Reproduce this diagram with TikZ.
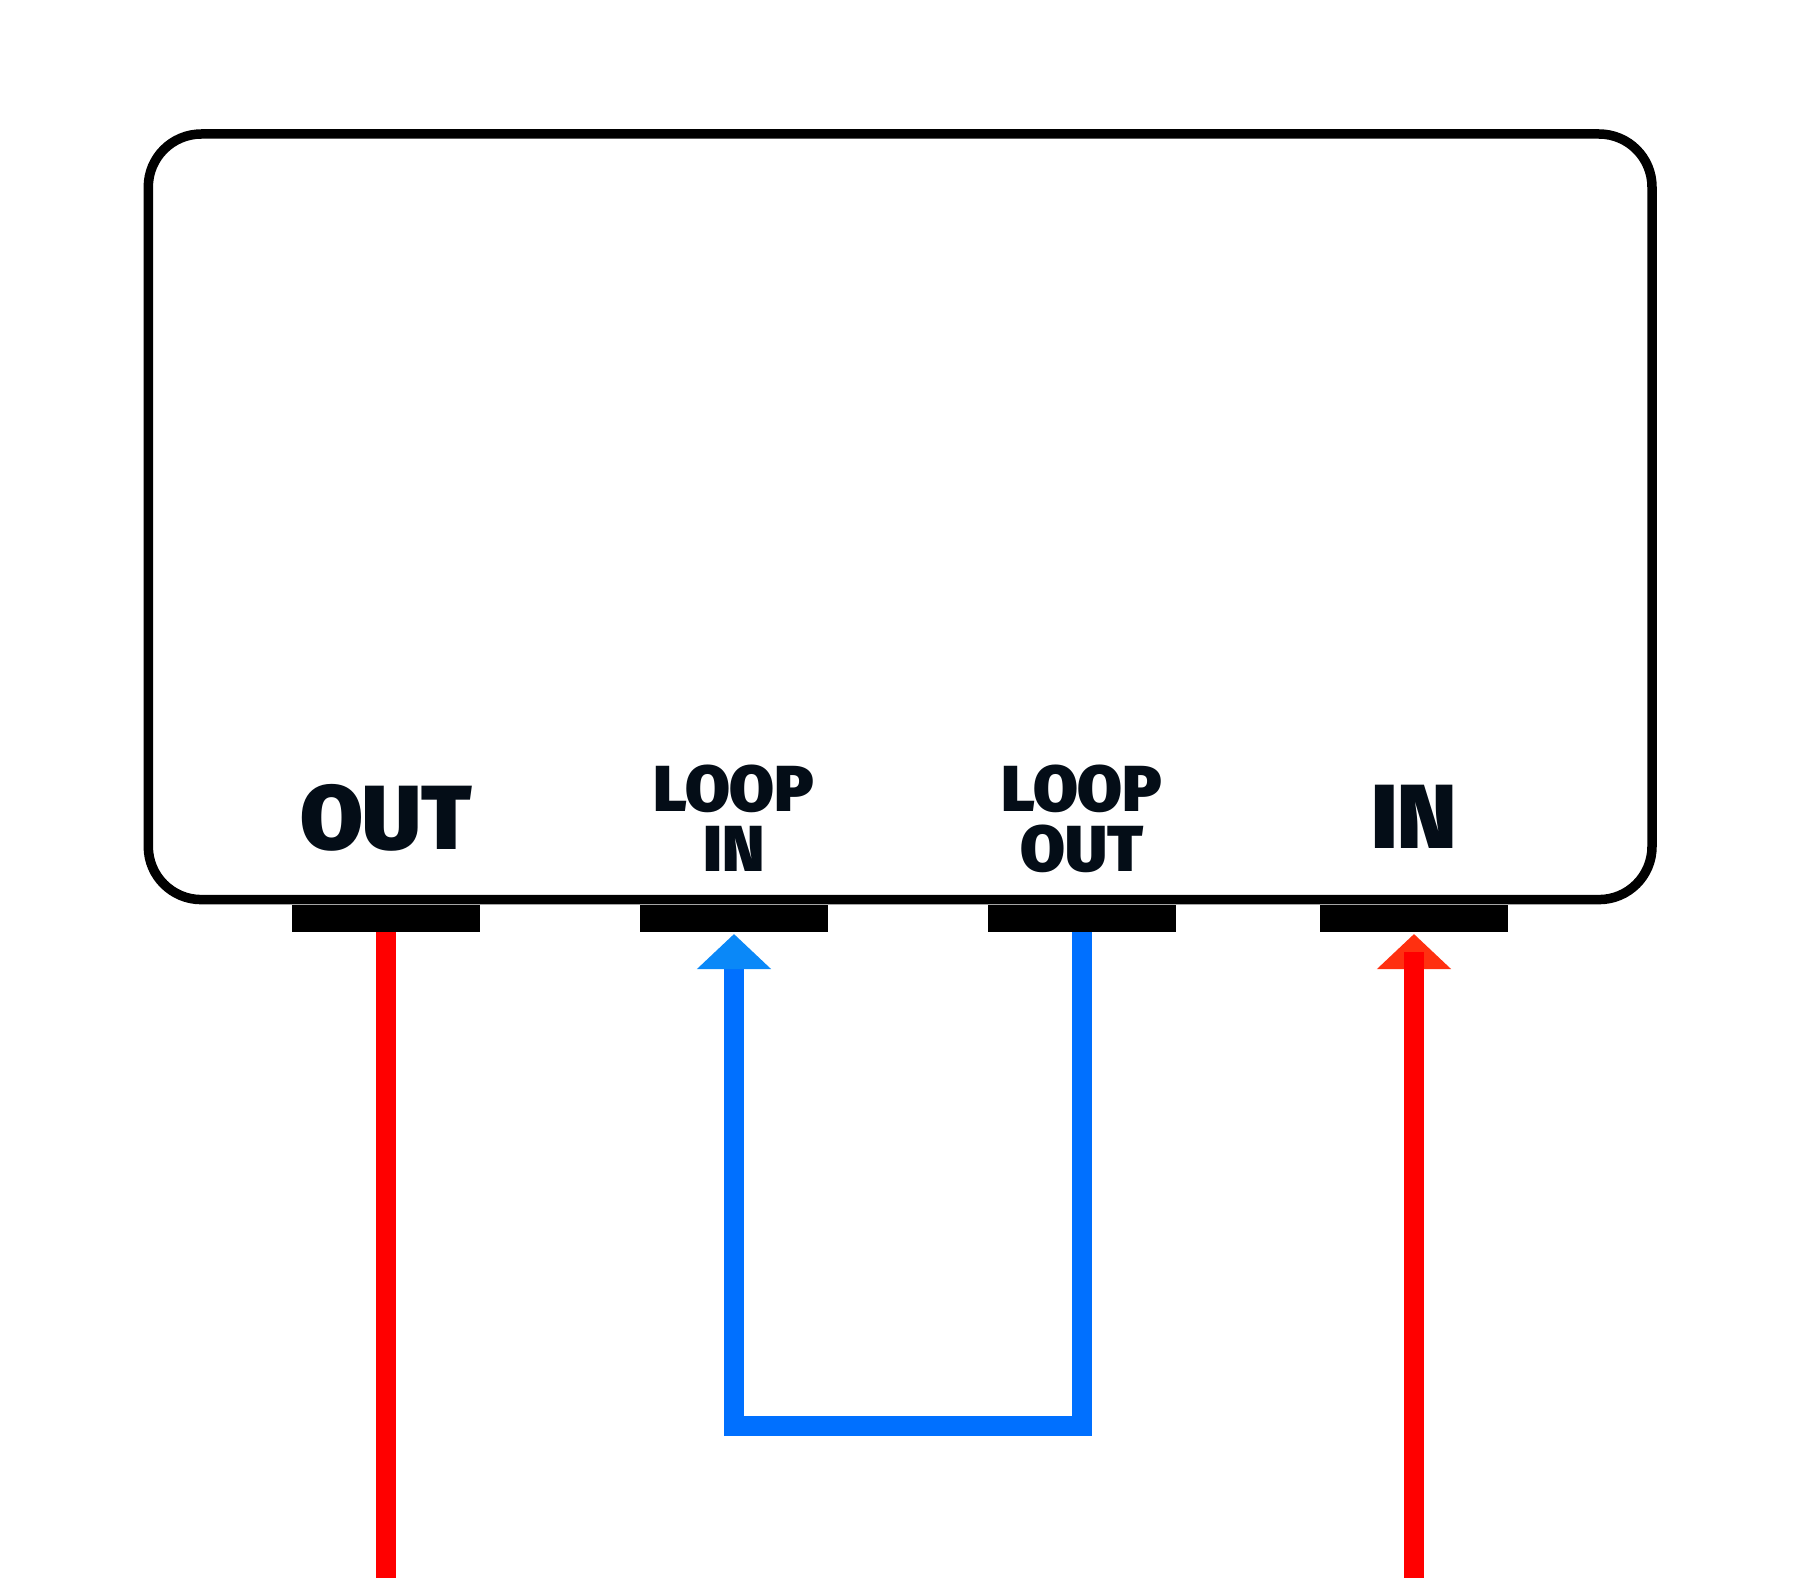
\documentclass[tikz,border=0pt]{standalone}
\usepackage{fontspec}
\newfontfamily\lblfont{Fira Sans Black}
\usetikzlibrary{arrows.meta}
\definecolor{txt}{HTML}{040D17}
\definecolor{redl}{HTML}{FF0000}
\definecolor{redtip}{HTML}{FF3010}
\definecolor{bluel}{HTML}{0070FF}
\definecolor{bluetip}{HTML}{0A88F8}
\tikzset{
  portbox/.style={fill=black, draw=none, minimum width=188pt, minimum height=27pt, inner sep=0pt, outer sep=0pt},
  biglbl/.style={anchor=base, inner sep=0pt, text=txt, font=\lblfont\fontsize{91}{91}\selectfont},
  smalllbl/.style={anchor=base, inner sep=0pt, text=txt, font=\lblfont\fontsize{65}{65}\selectfont},
  redwire/.style={draw=redl, line width=20pt},
  bluewire/.style={draw=bluel, line width=20pt, line join=miter},
}
\begin{document}
\begin{tikzpicture}[x=1pt, y=-1pt]
\useasboundingbox (0,0) rectangle (1800,1578);
\fill[white] (0,0) rectangle (1800,1578);
% device box
\node[draw=black, line width=9.5pt, rounded corners=53pt, minimum width=1503.7pt, minimum height=765.6pt, inner sep=0pt, outer sep=0pt] (box) at (900.15,516.8) {};
% ports
\node[portbox] (outport) at (386,918.5) {};
\node[portbox] (loopinport) at (734,918.5) {};
\node[portbox] (loopoutport) at (1081.5,918.5) {};
\node[portbox] (inport) at (1414,918.5) {};
% labels
\node[biglbl] (outlbl) at (386,849) {OUT};
\node[smalllbl] (loopinlbl1) at (734,811.7) {LOOP};
\node[smalllbl] (loopinlbl2) at (734,871.7) {IN};
\node[smalllbl] (loopoutlbl1) at (1082,811.7) {LOOP};
\node[smalllbl] (loopoutlbl2) at (1082,871.7) {OUT};
\node[biglbl] (inlbl) at (1414,848) {IN};
% end points
\coordinate (outend) at (386,1578);
\coordinate (inend) at (1414,1578);
\coordinate (loopbot) at (0,1426);
% wires
\draw[redwire] (outport.south) -- (outend);
\draw[bluewire, shorten >=2pt, -{Triangle[width=72pt, length=35pt, fill=bluetip, color=bluetip]}]
  (loopoutport.south) -- (loopoutport.south |- loopbot) -- (loopinport.south |- loopbot) -- (loopinport.south);
\draw[redwire, shorten >=2pt, -{Triangle[width=72pt, length=35pt, fill=redtip, color=redtip]}] (inend) -- (inport.south);
\draw[redwire] (inend) -- ([yshift=-20pt]inport.south);
\end{tikzpicture}
\end{document}
